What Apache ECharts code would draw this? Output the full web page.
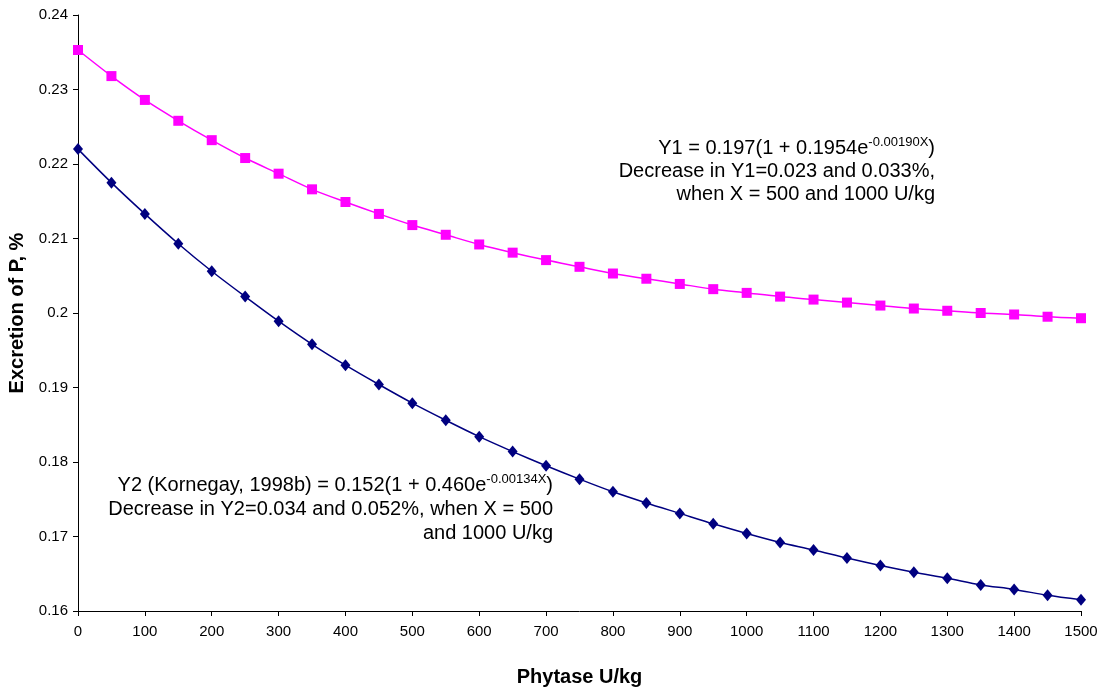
<!DOCTYPE html>
<html lang="en">
<head>
    <meta charset="UTF-8">
    <title>Phytase and P excretion</title>
    <style>
        body{
            margin: 0;
            background-color: #ffffff;
        }
        #chart{
            width: 1102px;
            height: 688px;
        }
    </style>
</head>
<body>
<div id="chart"></div>
<script src="https://cdn.jsdelivr.net/npm/echarts@6/dist/echarts.min.js"></script>
<script>
    // phytase dose, U/kg
    var phytase = [0, 50, 100, 150, 200, 250, 300, 350, 400, 450, 500, 550, 600, 650, 700, 750,
        800, 850, 900, 950, 1000, 1050, 1100, 1150, 1200, 1250, 1300, 1350, 1400, 1450, 1500];
    // Y1
    var y1 = [0.2353, 0.2318, 0.2286, 0.2258, 0.2232, 0.2208, 0.2187, 0.2166, 0.2149, 0.2133,
        0.2118, 0.2105, 0.2092, 0.2081, 0.2071, 0.2062, 0.2053, 0.2046, 0.2039, 0.2032,
        0.2027, 0.2022, 0.2018, 0.2014, 0.2010, 0.2006, 0.2003, 0.2000, 0.1998, 0.1995, 0.1993];
    // Y2
    var y2 = [0.2220, 0.2175, 0.2133, 0.2093, 0.2056, 0.2022, 0.1989, 0.1958, 0.1930, 0.1904,
        0.1879, 0.1856, 0.1834, 0.1814, 0.1795, 0.1777, 0.1760, 0.1745, 0.1731, 0.1717,
        0.1704, 0.1692, 0.1682, 0.1671, 0.1661, 0.1652, 0.1644, 0.1635, 0.1629, 0.1621, 0.1615];

    var font = 'Liberation Sans, Arial, sans-serif';

    function pairs(ys) {
        var out = [];
        for (var i = 0; i < phytase.length; i++) {
            out.push([phytase[i], ys[i]]);
        }
        return out;
    }

    var chart = echarts.init(document.getElementById('chart'));

    var richLine = {
        n: {fontSize: 20, fontFamily: font, color: '#000', lineHeight: 24},
        s: {fontSize: 13, fontFamily: font, color: '#000', lineHeight: 24, verticalAlign: 'top'}
    };

    function note(x, y, text) {
        return {
            type: 'text',
            x: x,
            y: y,
            style: {
                text: text,
                align: 'right',
                verticalAlign: 'middle',
                font: '20px ' + font,
                fill: '#000',
                rich: richLine
            }
        };
    }

    var option = {
        backgroundColor: '#ffffff',
        animation: false,
        grid: {left: 78, right: 21, top: 15, bottom: 77, containLabel: false, outerBoundsMode: 'none'},
        xAxis: {
            type: 'value',
            min: 0,
            max: 1500,
            interval: 100,
            name: 'Phytase U/kg',
            nameLocation: 'middle',
            nameGap: 56,
            nameTextStyle: {fontSize: 20, fontWeight: 'bold', fontFamily: font, color: '#000'},
            axisLine: {lineStyle: {color: '#000', width: 1}},
            axisTick: {inside: false, length: 5, lineStyle: {color: '#000'}},
            axisLabel: {
                fontSize: 15, fontFamily: font, color: '#000', margin: 13,
                formatter: function (v) { return String(v); }
            },
            splitLine: {show: false}
        },
        yAxis: {
            type: 'value',
            min: 0.16,
            max: 0.24,
            interval: 0.01,
            name: 'Excretion of P, %',
            nameLocation: 'middle',
            nameGap: 49,
            nameTextStyle: {fontSize: 20, fontWeight: 'bold', fontFamily: font, color: '#000'},
            axisLine: {show: true, lineStyle: {color: '#000', width: 1}},
            axisTick: {show: true, inside: false, length: 5, lineStyle: {color: '#000'}},
            axisLabel: {
                fontSize: 15, fontFamily: font, color: '#000', margin: 10,
                formatter: function (v) { return String(Math.round(v * 100) / 100); }
            },
            splitLine: {show: false}
        },
        series: [
            {
                name: 'Y1',
                type: 'line',
                data: pairs(y1),
                smooth: 0.3,
                symbol: 'rect',
                symbolSize: 10,
                showAllSymbol: true,
                itemStyle: {color: '#ff00ff'},
                lineStyle: {color: '#ff00ff', width: 1.5}
            },
            {
                name: 'Y2',
                type: 'line',
                data: pairs(y2),
                smooth: 0.3,
                symbol: 'diamond',
                symbolSize: [10, 12],
                showAllSymbol: true,
                itemStyle: {color: '#000080'},
                lineStyle: {color: '#000080', width: 1.5}
            }
        ],
        graphic: [
            note(935, 148, '{n|Y1 = 0.197(1 + 0.1954e}{s|-0.00190X}{n|)}'),
            note(935, 171, '{n|Decrease in Y1=0.023 and 0.033%,}'),
            note(935, 194, '{n|when X = 500 and 1000 U/kg}'),
            note(553, 485, '{n|Y2 (Kornegay, 1998b) = 0.152(1 + 0.460e}{s|-0.00134X}{n|)}'),
            note(553, 509, '{n|Decrease in Y2=0.034 and 0.052%, when X = 500}'),
            note(553, 533, '{n|and 1000 U/kg}')
        ]
    };

    chart.setOption(option);
</script>
</body>
</html>
